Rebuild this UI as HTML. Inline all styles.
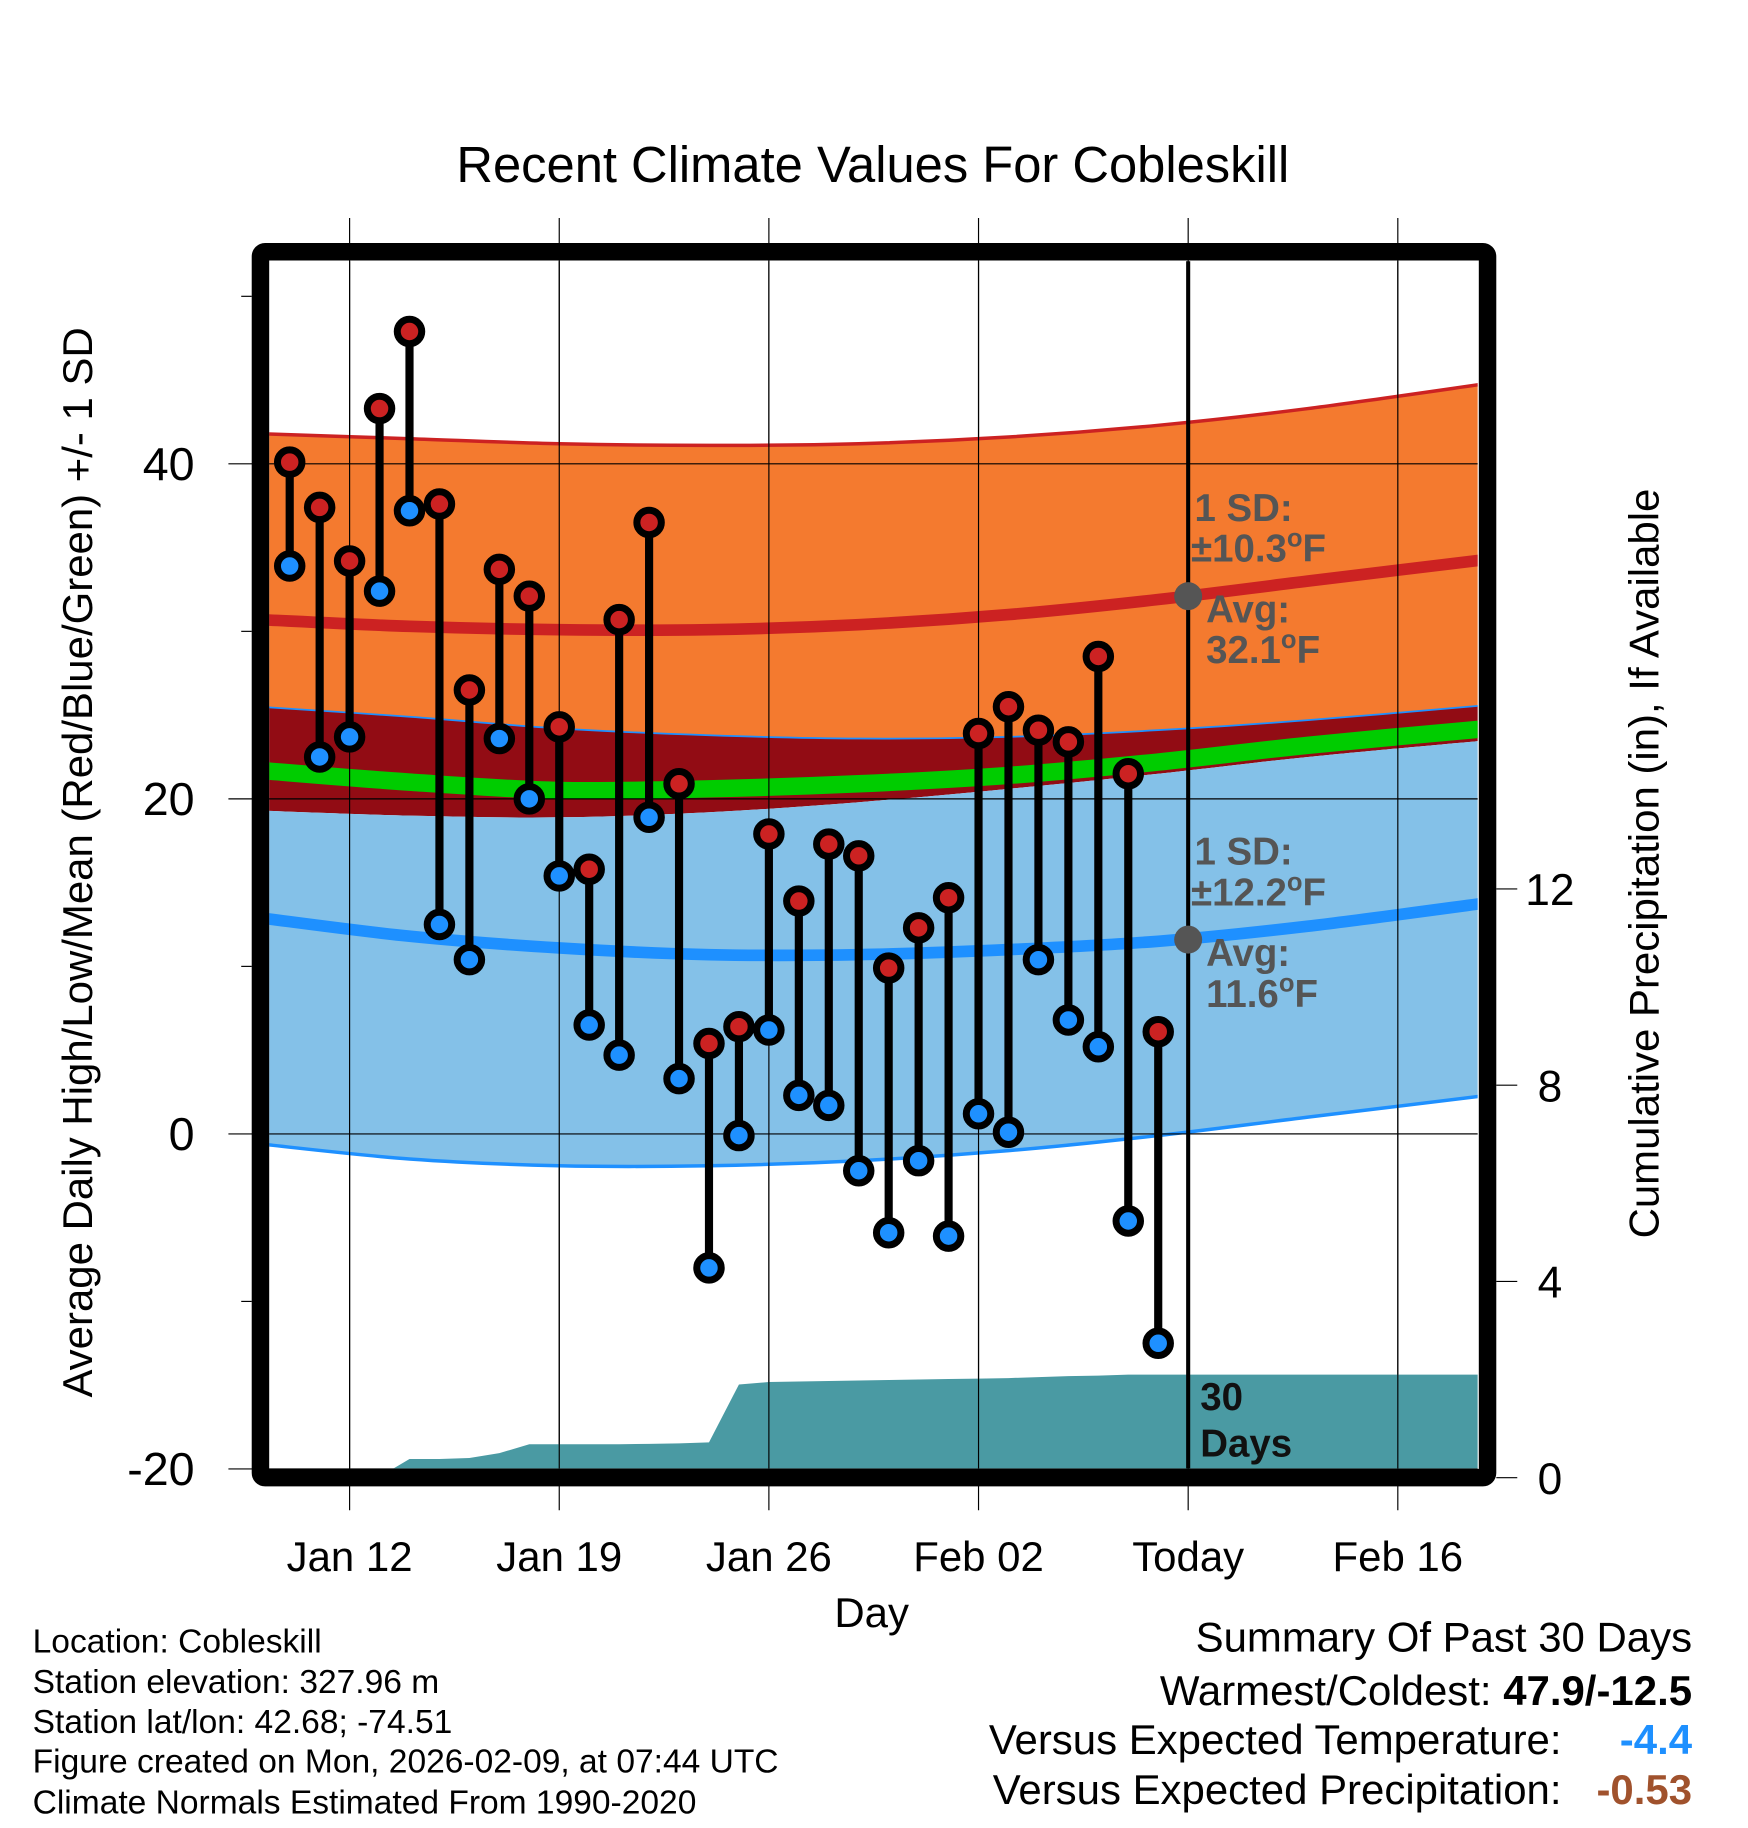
<!DOCTYPE html>
<html><head><meta charset="utf-8"><style>
html,body{margin:0;padding:0;background:#fff}
svg{display:block;font-family:"Liberation Sans",Arial,sans-serif}
</style></head><body>
<svg id="chart" xmlns="http://www.w3.org/2000/svg" width="1748" height="1828" viewBox="0 0 1500 1568.6">
<defs><clipPath id="plotclip"><rect x="231" y="224" width="1037" height="1036"/></clipPath></defs>
<text x="749" y="156" font-size="43.5" text-anchor="middle">Recent Climate Values For Cobleskill</text>
<g id="grid"></g>
<g id="bands" clip-path="url(#plotclip)"></g>
<g id="precip" clip-path="url(#plotclip)"></g>
<g id="hgrid" clip-path="url(#plotclip)"></g>
<g id="marks"></g>
<g id="annot"></g>
<rect x="223.5" y="216" width="1053" height="1052" rx="4" fill="none" stroke="#000" stroke-width="15"/>
<g id="axes"></g>
<text transform="translate(79,740) rotate(-90)" font-size="36" text-anchor="middle">Average Daily High/Low/Mean (Red/Blue/Green) +/- 1 SD</text>
<text transform="translate(1423,741) rotate(-90)" font-size="36" text-anchor="middle">Cumulative Precipitation (in), If Available</text>
<text x="748" y="1396" font-size="36" text-anchor="middle">Day</text>
<g font-size="28.8">
<text x="28" y="1418">Location: Cobleskill</text>
<text x="28" y="1453">Station elevation: 327.96 m</text>
<text x="28" y="1487">Station lat/lon: 42.68; -74.51</text>
<text x="28" y="1521">Figure created on Mon, 2026-02-09, at 07:44 UTC</text>
<text x="28" y="1556">Climate Normals Estimated From 1990-2020</text>
</g>
<g font-size="36">
<text x="1452" y="1417" text-anchor="end">Summary Of Past 30 Days</text>
<text x="1452" y="1463" text-anchor="end">Warmest/Coldest: <tspan font-weight="bold">47.9/-12.5</tspan></text>
<text x="1340" y="1505" text-anchor="end">Versus Expected Temperature:</text>
<text x="1452" y="1505" text-anchor="end" font-weight="bold" fill="#1e90ff">-4.4</text>
<text x="1340" y="1548" text-anchor="end">Versus Expected Precipitation:</text>
<text x="1452" y="1548" text-anchor="end" font-weight="bold" fill="#a0522d">-0.53</text>
</g>
</svg>
<script>
// Daily data: day offsets relative to Jan 12 (Jan 10 .. Feb 8)
const highs=[40.1,37.4,34.2,43.3,47.9,37.6,26.5,33.7,32.1,24.3,15.8,30.7,36.5,20.9,5.4,6.4,17.9,13.9,17.3,16.6,9.9,12.3,14.1,23.9,25.5,24.1,23.4,28.5,21.5,6.1];
const lows=[33.9,22.5,23.7,32.4,37.2,12.5,10.4,23.6,20.0,15.4,6.5,4.7,18.9,3.3,-8.0,-0.1,6.2,2.3,1.7,-2.2,-5.9,-1.6,-6.1,1.2,0.1,10.4,6.8,5.2,-5.2,-12.5];
const precip=[0,0,0,0.02,0.38,0.38,0.40,0.50,0.68,0.68,0.68,0.68,0.69,0.70,0.72,1.90,1.95,1.96,1.97,1.98,1.99,2.00,2.01,2.02,2.03,2.05,2.07,2.08,2.10,2.10];
// Climate normals sampled at day offsets
const normDays=[-3,2,7,12,17,22,27,32,38];
const highTop=[41.8,41.5,41.2,41.1,41.2,41.6,42.3,43.3,44.8];
const highMean=[30.7,30.3,30.1,30.1,30.4,31.0,31.9,33.0,34.3];
const highBot=[25.5,24.9,24.2,23.8,23.6,23.7,24.1,24.7,25.6];
const avgMean=[21.7,21.0,20.5,20.6,20.9,21.4,22.2,23.2,24.2];
const lowTop=[19.3,19.0,18.9,19.2,19.8,20.6,21.5,22.5,23.5];
const lowMean=[12.9,11.8,11.1,10.7,10.7,11.0,11.5,12.4,13.8];
const lowBot=[-0.6,-1.5,-1.9,-1.9,-1.6,-1.0,-0.1,1.0,2.3];
const xTickDays=[0,7,14,21,28,35];
const xTickLabels=["Jan 12","Jan 19","Jan 26","Feb 02","Today","Feb 16"];
const yTicks=[-20,0,20,40];
const yMinor=[-10,10,30,50];
const y2Ticks=[0,4,8,12];

const X=d=>300+25.7*d;
const Y=v=>973-14.375*v;
const Y2=p=>1268-42.1*p;
const NS="http://www.w3.org/2000/svg";
function mk(tag,attrs,parent){const e=document.createElementNS(NS,tag);for(const k in attrs)e.setAttribute(k,attrs[k]);parent.appendChild(e);return e;}
function smooth(days,vals){let pts=days.map((d,i)=>[X(d),Y(vals[i])]);let s="M"+pts[0][0]+","+pts[0][1];
 for(let i=0;i<pts.length-1;i++){const p0=pts[Math.max(0,i-1)],p1=pts[i],p2=pts[i+1],p3=pts[Math.min(pts.length-1,i+2)];
 s+=" C"+(p1[0]+(p2[0]-p0[0])/6)+","+(p1[1]+(p2[1]-p0[1])/6)+" "+(p2[0]-(p3[0]-p1[0])/6)+","+(p2[1]-(p3[1]-p1[1])/6)+" "+p2[0]+","+p2[1];}return s;}
function band(top,bot){const a=smooth(normDays,top);const rd=normDays.slice().reverse(),rb=bot.slice().reverse();return a+" L"+smooth(rd,rb).slice(1)+" Z";}

const grid=document.getElementById('grid'),bands=document.getElementById('bands'),pr=document.getElementById('precip'),hg=document.getElementById('hgrid'),marks=document.getElementById('marks'),axes=document.getElementById('axes'),annot=document.getElementById('annot');
xTickDays.forEach((d,i)=>{const l=mk('line',{x1:X(d),x2:X(d),y1:187,y2:1296,stroke:'#000','stroke-width':1},grid);


const t=mk('text',{x:X(d),y:1348,'font-size':36,'text-anchor':'middle'},axes);t.textContent=xTickLabels[i];

});
let p;
p=mk('path',{d:band(highTop,highBot),fill:'#f47a2f'},bands);

p=mk('path',{d:smooth(normDays,highTop),fill:'none',stroke:'#cc2222','stroke-width':3},bands);

p=mk('path',{d:band(highBot,lowTop),fill:'#920c14'},bands);

p=mk('path',{d:band(lowTop,lowBot),fill:'#84c1e8'},bands);

p=mk('path',{d:smooth(normDays,lowBot),fill:'none',stroke:'#1e90ff','stroke-width':3},bands);

p=mk('path',{d:smooth(normDays,highBot),fill:'none',stroke:'#1e90ff','stroke-width':1.5},bands);

p=mk('path',{d:smooth(normDays,avgMean),fill:'none',stroke:'#00cc00','stroke-width':15},bands);

p=mk('path',{d:smooth(normDays,highMean),fill:'none',stroke:'#cc2222','stroke-width':10},bands);

p=mk('path',{d:smooth(normDays,lowMean),fill:'none',stroke:'#1e90ff','stroke-width':10},bands);

let ps="M"+X(-2)+","+Y2(0);precip.forEach((v,i)=>{ps+=" L"+X(i-2)+","+Y2(v);});
ps+=" L"+X(40)+","+Y2(precip[precip.length-1])+" L"+X(40)+","+Y2(0)+" Z";
p=mk('path',{d:ps,fill:'#4a9aa3'},pr);

yTicks.forEach(v=>{const l=mk('line',{x1:196,x2:1268,y1:Y(v),y2:Y(v),stroke:'#000','stroke-width':1},grid);

const t=mk('text',{x:167,y:Y(v)+14,'font-size':40,'text-anchor':'end'},axes);t.textContent=v;
});
xTickDays.forEach(d=>{const l=mk('line',{x1:X(d),x2:X(d),y1:224,y2:1260,stroke:'#000','stroke-width':1},hg);
});
yTicks.forEach(v=>{const l=mk('line',{x1:231,x2:1268,y1:Y(v),y2:Y(v),stroke:'#000','stroke-width':1},hg);
});
yMinor.forEach(v=>{const l=mk('line',{x1:207,x2:216,y1:Y(v),y2:Y(v),stroke:'#000','stroke-width':1},axes);
});
y2Ticks.forEach(v=>{const l=mk('line',{x1:1284,x2:1302,y1:Y2(v),y2:Y2(v),stroke:'#000','stroke-width':1},axes);

const t=mk('text',{x:1330,y:Y2(v)+14,'font-size':38,'text-anchor':'middle'},axes);t.textContent=v;
});
p=mk('line',{x1:X(28),x2:X(28),y1:224,y2:1260,stroke:'#000','stroke-width':3.5},hg);

highs.forEach((h,i)=>{const x=X(i-2);
 const l=mk('line',{x1:x,x2:x,y1:Y(h),y2:Y(lows[i]),stroke:'#000','stroke-width':7},marks);
 
 const c1=mk('circle',{cx:x,cy:Y(h),r:10.5,fill:'#cc2222',stroke:'#000','stroke-width':6},marks);
 
 const c2=mk('circle',{cx:x,cy:Y(lows[i]),r:10.5,fill:'#1e90ff',stroke:'#000','stroke-width':6},marks);
 });
function txt(x,y,s,name){const t=mk('text',{x:x,y:y,'font-size':33,'font-weight':'bold',fill:'#555'},annot);t.innerHTML=s;}
const tx=X(28);
txt(1025,447,'1 SD:','high-sd-label');txt(1022,482,'±10.3<tspan dy="-13" font-size="22">o</tspan><tspan dy="13">F</tspan>','high-sd-value');
p=mk('circle',{cx:tx,cy:Y(32.1),r:12,fill:'#555'},annot);
txt(1035,534,'Avg:','high-avg-label');txt(1035,569,'32.1<tspan dy="-13" font-size="22">o</tspan><tspan dy="13">F</tspan>','high-avg-value');
txt(1025,742,'1 SD:','low-sd-label');txt(1022,777,'±12.2<tspan dy="-13" font-size="22">o</tspan><tspan dy="13">F</tspan>','low-sd-value');
p=mk('circle',{cx:tx,cy:Y(11.6),r:12,fill:'#555'},annot);
txt(1035,829,'Avg:','low-avg-label');txt(1035,864,'11.6<tspan dy="-13" font-size="22">o</tspan><tspan dy="13">F</tspan>','low-avg-value');
p=mk('text',{x:1030,y:1210,'font-size':33,'font-weight':'bold',fill:'#111'},annot);p.textContent='30';
p=mk('text',{x:1030,y:1250,'font-size':33,'font-weight':'bold',fill:'#111'},annot);p.textContent='Days';
</script>
</body></html>
